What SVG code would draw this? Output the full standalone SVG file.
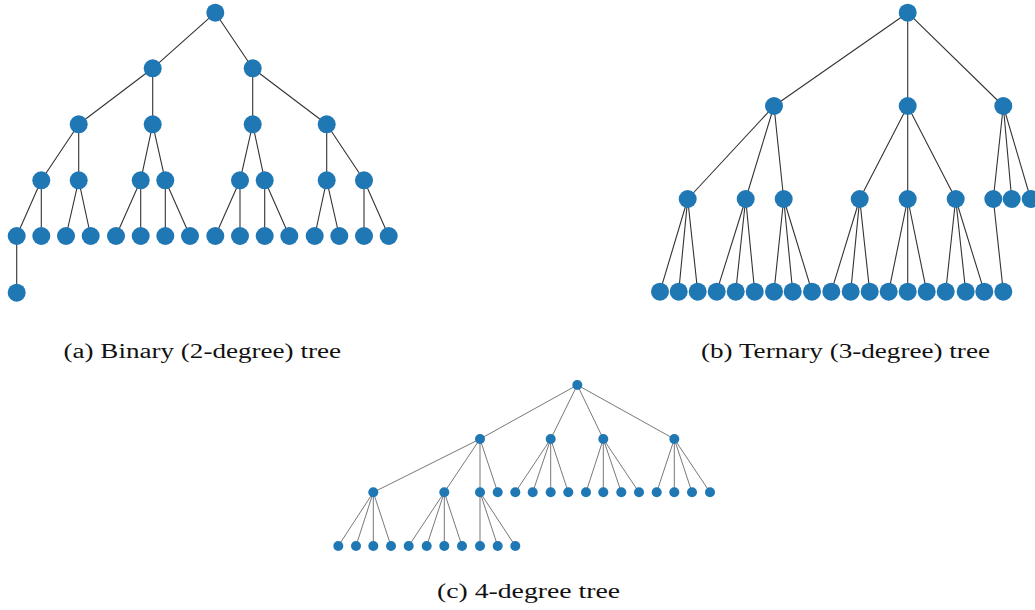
<svg xmlns="http://www.w3.org/2000/svg" width="1035" height="610" viewBox="0 0 1035 610">
<style>
.e{stroke:#333;stroke-width:1.1;fill:none}
.e2{stroke:#555;stroke-width:0.8;fill:none}
.n circle{fill:#1f77b4}
.cap{font-family:"Liberation Serif","Times New Roman",serif;font-size:20.5px;fill:#111}
</style>
<rect width="1035" height="610" fill="#fff"/>
<g id="connectors-a">
<path class="e" d="M215.3,12.7L152.7,68.3M215.3,12.7L252.7,68.3
M152.7,68.3L78.7,124.3M152.7,68.3L152.7,124.3M252.7,68.3L252.7,124.3M252.7,68.3L326.7,124.3
M78.7,124.3L41.3,180.3M78.7,124.3L78.7,180.3M152.7,124.3L140.7,180.3M152.7,124.3L165.3,180.3
M252.7,124.3L240,180.3M252.7,124.3L264.7,180.3M326.7,124.3L326.7,180.3M326.7,124.3L364,180.3
M41.3,180.3L16.7,236M41.3,180.3L41.3,236M78.7,180.3L66,236M78.7,180.3L90.7,236
M140.7,180.3L116,236M140.7,180.3L140.7,236M165.3,180.3L165.3,236M165.3,180.3L190,236
M240,180.3L215.3,236M240,180.3L240,236M264.7,180.3L264.7,236M264.7,180.3L289.3,236
M326.7,180.3L314.7,236M326.7,180.3L339.3,236M364,180.3L364,236M364,180.3L388.7,236
M16.7,236L16.7,292.7"/>
</g>
<g id="nodes-a" class="n">
<circle id="a0" cx="215.3" cy="12.7" r="9"/>
<circle id="a1" cx="152.7" cy="68.3" r="9"/>
<circle id="a2" cx="252.7" cy="68.3" r="9"/>
<circle id="a3" cx="78.7" cy="124.3" r="9"/>
<circle id="a4" cx="152.7" cy="124.3" r="9"/>
<circle id="a5" cx="252.7" cy="124.3" r="9"/>
<circle id="a6" cx="326.7" cy="124.3" r="9"/>
<circle id="a7" cx="41.3" cy="180.3" r="9"/>
<circle id="a8" cx="78.7" cy="180.3" r="9"/>
<circle id="a9" cx="140.7" cy="180.3" r="9"/>
<circle id="a10" cx="165.3" cy="180.3" r="9"/>
<circle id="a11" cx="240" cy="180.3" r="9"/>
<circle id="a12" cx="264.7" cy="180.3" r="9"/>
<circle id="a13" cx="326.7" cy="180.3" r="9"/>
<circle id="a14" cx="364" cy="180.3" r="9"/>
<circle id="a15" cx="16.7" cy="236" r="9"/>
<circle id="a16" cx="41.3" cy="236" r="9"/>
<circle id="a17" cx="66" cy="236" r="9"/>
<circle id="a18" cx="90.7" cy="236" r="9"/>
<circle id="a19" cx="116" cy="236" r="9"/>
<circle id="a20" cx="140.7" cy="236" r="9"/>
<circle id="a21" cx="165.3" cy="236" r="9"/>
<circle id="a22" cx="190" cy="236" r="9"/>
<circle id="a23" cx="215.3" cy="236" r="9"/>
<circle id="a24" cx="240" cy="236" r="9"/>
<circle id="a25" cx="264.7" cy="236" r="9"/>
<circle id="a26" cx="289.3" cy="236" r="9"/>
<circle id="a27" cx="314.7" cy="236" r="9"/>
<circle id="a28" cx="339.3" cy="236" r="9"/>
<circle id="a29" cx="364" cy="236" r="9"/>
<circle id="a30" cx="388.7" cy="236" r="9"/>
<circle id="a31" cx="16.7" cy="292.7" r="9"/>
</g>
<g id="connectors-b">
<path class="e" d="M907.7,12.7L774,106M907.7,12.7L907.7,106M907.7,12.7L1003.3,106
M774,106L687.7,199M774,106L745.7,199M774,106L783.7,199
M907.7,106L859.7,199M907.7,106L907.7,199M907.7,106L955.7,199
M1003.3,106L993.3,199M1003.3,106L1011.7,199M1003.3,106L1030.7,199
M687.7,199L660,291.7M687.7,199L678.7,291.7M687.7,199L697.7,291.7
M745.7,199L716.7,291.7M745.7,199L735.7,291.7M745.7,199L754.7,291.7
M783.7,199L774,291.7M783.7,199L792.7,291.7M783.7,199L812,291.7
M859.7,199L831.3,291.7M859.7,199L850.7,291.7M859.7,199L869.7,291.7
M907.7,199L888.7,291.7M907.7,199L907.7,291.7M907.7,199L926.7,291.7
M955.7,199L945.7,291.7M955.7,199L965.7,291.7M955.7,199L984.3,291.7
M993.3,199L1003.3,291.7"/>
</g>
<g id="nodes-b" class="n">
<circle id="b0" cx="907.7" cy="12.7" r="9"/>
<circle id="b1" cx="774" cy="106" r="9"/>
<circle id="b2" cx="907.7" cy="106" r="9"/>
<circle id="b3" cx="1003.3" cy="106" r="9"/>
<circle id="b4" cx="687.7" cy="199" r="9"/>
<circle id="b5" cx="745.7" cy="199" r="9"/>
<circle id="b6" cx="783.7" cy="199" r="9"/>
<circle id="b7" cx="859.7" cy="199" r="9"/>
<circle id="b8" cx="907.7" cy="199" r="9"/>
<circle id="b9" cx="955.7" cy="199" r="9"/>
<circle id="b10" cx="993.3" cy="199" r="9"/>
<circle id="b11" cx="1011.7" cy="199" r="9"/>
<circle id="b12" cx="1030.7" cy="199" r="9"/>
<circle id="b13" cx="660" cy="291.7" r="9"/>
<circle id="b14" cx="678.7" cy="291.7" r="9"/>
<circle id="b15" cx="697.7" cy="291.7" r="9"/>
<circle id="b16" cx="716.7" cy="291.7" r="9"/>
<circle id="b17" cx="735.7" cy="291.7" r="9"/>
<circle id="b18" cx="754.7" cy="291.7" r="9"/>
<circle id="b19" cx="774" cy="291.7" r="9"/>
<circle id="b20" cx="792.7" cy="291.7" r="9"/>
<circle id="b21" cx="812" cy="291.7" r="9"/>
<circle id="b22" cx="831.3" cy="291.7" r="9"/>
<circle id="b23" cx="850.7" cy="291.7" r="9"/>
<circle id="b24" cx="869.7" cy="291.7" r="9"/>
<circle id="b25" cx="888.7" cy="291.7" r="9"/>
<circle id="b26" cx="907.7" cy="291.7" r="9"/>
<circle id="b27" cx="926.7" cy="291.7" r="9"/>
<circle id="b28" cx="945.7" cy="291.7" r="9"/>
<circle id="b29" cx="965.7" cy="291.7" r="9"/>
<circle id="b30" cx="984.3" cy="291.7" r="9"/>
<circle id="b31" cx="1003.3" cy="291.7" r="9"/>
</g>
<g id="connectors-c">
<path class="e2" d="M577.3,385L480,439M577.3,385L550.7,439M577.3,385L603.3,439M577.3,385L674.3,439
M480,439L373.3,492.3M480,439L444.3,492.3M480,439L480,492.3M480,439L497.7,492.3
M550.7,439L515.3,492.3M550.7,439L532.7,492.3M550.7,439L550.7,492.3M550.7,439L568.3,492.3
M603.3,439L586,492.3M603.3,439L603.3,492.3M603.3,439L621.3,492.3M603.3,439L639,492.3
M674.3,439L656.7,492.3M674.3,439L674.3,492.3M674.3,439L692,492.3M674.3,439L710,492.3
M373.3,492.3L338.3,546M373.3,492.3L356,546M373.3,492.3L373.3,546M373.3,492.3L391,546
M444.3,492.3L408.7,546M444.3,492.3L426.7,546M444.3,492.3L444.3,546M444.3,492.3L462,546
M480,492.3L480,546M480,492.3L497.7,546M480,492.3L515.3,546"/>
</g>
<g id="nodes-c" class="n">
<circle id="c0" cx="577.3" cy="385" r="5"/>
<circle id="c1" cx="480" cy="439" r="5"/>
<circle id="c2" cx="550.7" cy="439" r="5"/>
<circle id="c3" cx="603.3" cy="439" r="5"/>
<circle id="c4" cx="674.3" cy="439" r="5"/>
<circle id="c5" cx="373.3" cy="492.3" r="5"/>
<circle id="c6" cx="444.3" cy="492.3" r="5"/>
<circle id="c7" cx="480" cy="492.3" r="5"/>
<circle id="c8" cx="497.7" cy="492.3" r="5"/>
<circle id="c9" cx="515.3" cy="492.3" r="5"/>
<circle id="c10" cx="532.7" cy="492.3" r="5"/>
<circle id="c11" cx="550.7" cy="492.3" r="5"/>
<circle id="c12" cx="568.3" cy="492.3" r="5"/>
<circle id="c13" cx="586" cy="492.3" r="5"/>
<circle id="c14" cx="603.3" cy="492.3" r="5"/>
<circle id="c15" cx="621.3" cy="492.3" r="5"/>
<circle id="c16" cx="639" cy="492.3" r="5"/>
<circle id="c17" cx="656.7" cy="492.3" r="5"/>
<circle id="c18" cx="674.3" cy="492.3" r="5"/>
<circle id="c19" cx="692" cy="492.3" r="5"/>
<circle id="c20" cx="710" cy="492.3" r="5"/>
<circle id="c21" cx="338.3" cy="546" r="5"/>
<circle id="c22" cx="356" cy="546" r="5"/>
<circle id="c23" cx="373.3" cy="546" r="5"/>
<circle id="c24" cx="391" cy="546" r="5"/>
<circle id="c25" cx="408.7" cy="546" r="5"/>
<circle id="c26" cx="426.7" cy="546" r="5"/>
<circle id="c27" cx="444.3" cy="546" r="5"/>
<circle id="c28" cx="462" cy="546" r="5"/>
<circle id="c29" cx="480" cy="546" r="5"/>
<circle id="c30" cx="497.7" cy="546" r="5"/>
<circle id="c31" cx="515.3" cy="546" r="5"/>
</g>
<g id="captions">
<text class="cap" x="63.5" y="357.5" textLength="277.5" lengthAdjust="spacingAndGlyphs">(a) Binary (2-degree) tree</text>
<text class="cap" x="701" y="357.5" textLength="289" lengthAdjust="spacingAndGlyphs">(b) Ternary (3-degree) tree</text>
<text class="cap" x="437" y="598" textLength="183" lengthAdjust="spacingAndGlyphs">(c) 4-degree tree</text>
</g>
</svg>
